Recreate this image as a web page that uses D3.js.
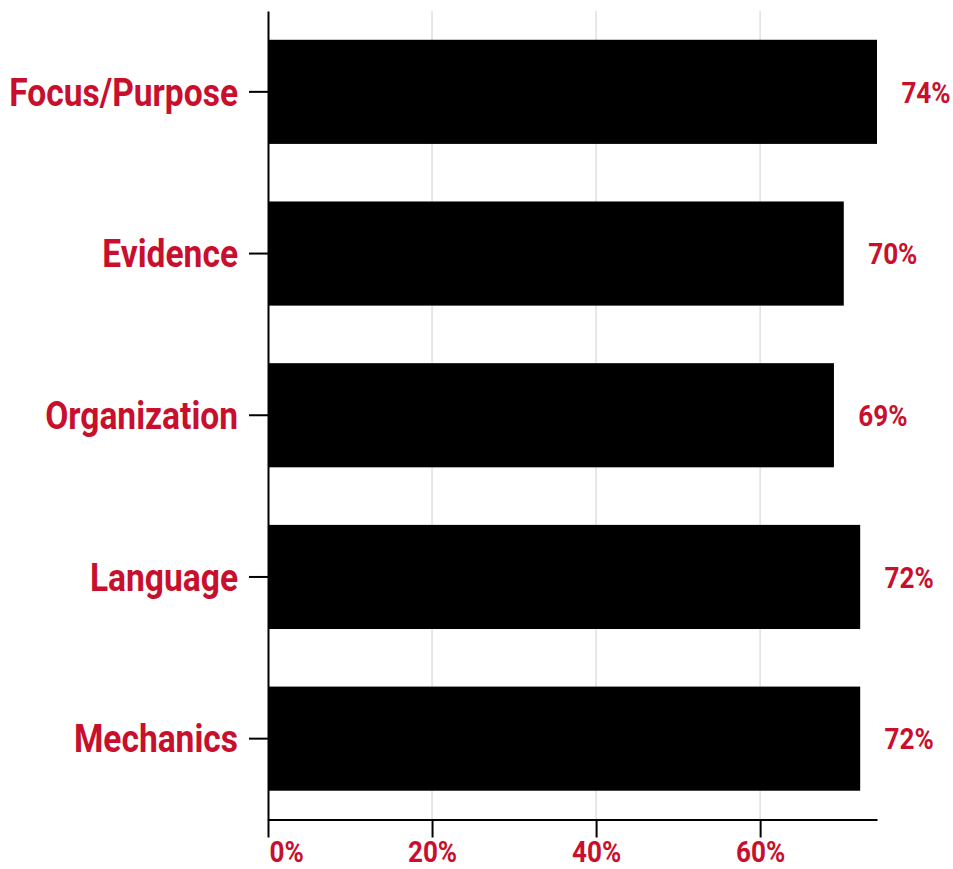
<!DOCTYPE html>
<html><head><meta charset="utf-8">
<script src="https://cdn.jsdelivr.net/npm/d3@7"></script>
<style>
html,body{margin:0;padding:0;background:#fff;}
svg{display:block;}
text{font-family:Roboto,"Noto Sans",sans-serif;font-weight:700;}
</style></head>
<body>
<svg id="chart" width="953" height="869"></svg>
<script>
const categories = ["Focus/Purpose","Evidence","Organization","Language","Mechanics"];
const values = [74.25, 70.2, 69.0, 72.2, 72.2];
const valueLabels = ["74%","70%","69%","72%","72%"];
const xTicks = [0, 20, 40, 60];
const xTickLabels = ["0%","20%","40%","60%"];

const RED = "#C8102E";
const W = 953, H = 869;
const m = {left:268, top:11, right:W-877, bottom:H-819.5};
const svg = d3.select("#chart");
const g = svg.append("g").attr("transform",`translate(${m.left},${m.top})`);
const iw = W - m.left - m.right, ih = H - m.top - m.bottom;

const x = d3.scaleLinear().domain([0, d3.max(values)]).range([0, iw]);
const y = d3.scaleBand().domain(categories).range([0, ih]).paddingInner(0.356).paddingOuter(0.178);

// horizontal condensing factor (approximating a condensed face)
function condense(sel, sx){
  sel.each(function(){
    const t = d3.select(this);
    const xx = +t.attr("x") || 0;
    t.attr("x",0).attr("transform",`translate(${xx},0) scale(${sx},1)`);
  });
}

// gridlines
g.append("g").selectAll("line").data(xTicks.filter(d=>d>0)).join("line")
  .attr("x1",d=>x(d)).attr("x2",d=>x(d)).attr("y1",0).attr("y2",ih)
  .attr("stroke","#e0e0e0").attr("stroke-width",1.5);

// bars
g.append("g").selectAll("rect").data(categories).join("rect")
  .attr("x",0).attr("y",d=>y(d)).attr("width",(d,i)=>x(values[i])).attr("height",y.bandwidth())
  .attr("fill","#000");

// value labels
g.append("g").selectAll("text").data(categories).join("text")
  .attr("x",(d,i)=>x(values[i]) + 49)
  .attr("y",d=>y(d)+y.bandwidth()/2)
  .attr("dy","0.36em")
  .attr("text-anchor","middle")
  .attr("fill",RED).attr("font-size",30)
  .text((d,i)=>valueLabels[i])
  .call(condense, 0.87);

// x axis
const xAxis = g.append("g").attr("transform",`translate(0,${ih})`)
  .call(d3.axisBottom(x).tickValues(xTicks).tickFormat((d,i)=>xTickLabels[i]).tickSize(18).tickSizeOuter(0).tickPadding(4));
xAxis.select(".domain").attr("stroke","#000").attr("stroke-width",2);
xAxis.selectAll(".tick line").attr("stroke","#000").attr("stroke-width",2);
xAxis.selectAll(".tick text").attr("fill",RED).attr("font-size",29)
  .each(function(d){ if(d===0){ d3.select(this).attr("text-anchor","start").attr("x",1);} })
  .call(condense, 0.9);

// y axis
const yAxis = g.append("g")
  .call(d3.axisLeft(y).tickSize(19).tickSizeOuter(0).tickPadding(11));
yAxis.select(".domain").attr("stroke","#000").attr("stroke-width",2);
yAxis.selectAll(".tick line").attr("stroke","#000").attr("stroke-width",2);
yAxis.selectAll(".tick text").attr("fill",RED).attr("font-size",38)
  .attr("dy","0.36em")
  .call(condense, 0.883);
svg.selectAll("g").attr("font-family",null);
</script>
</body></html>
